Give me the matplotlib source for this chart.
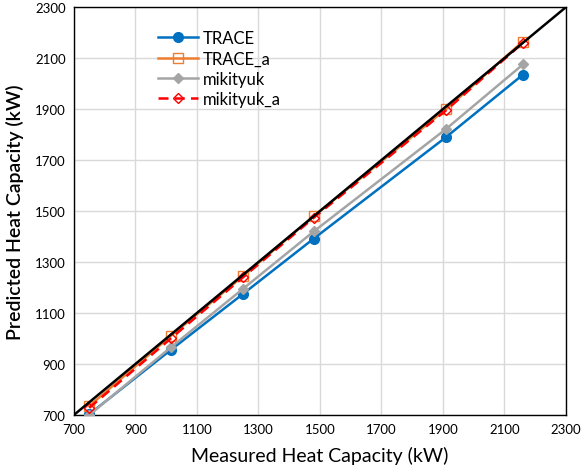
import matplotlib.pyplot as plt
import numpy as np

plt.rcParams['font.family'] = ['Lato', 'DejaVu Sans']

# Measured heat capacity (kW)
measured = [750, 1015, 1250, 1480, 1910, 2160]

# Predicted heat capacity (kW) per model
trace = [703, 955, 1175, 1392, 1790, 2035]
trace_a = [735, 1010, 1245, 1480, 1900, 2165]
mikityuk = [700, 965, 1195, 1420, 1822, 2075]
mikityuk_a = [728, 1000, 1240, 1474, 1895, 2160]

ideal = [700, 2300]
ticks = list(range(700, 2301, 200))

fig = plt.figure(figsize=(5.82, 4.77), dpi=100)
ax = fig.add_axes([0.127, 0.128, 0.8455, 0.855])

ax.plot(measured, trace, color='#0070C0', lw=1.8, marker='o', ms=7,
        label='TRACE', zorder=3)
ax.plot(measured, trace_a, color='#ED7D31', lw=1.8, marker='s', ms=6.5,
        mfc='none', mew=1.0, label='TRACE_a', zorder=3)
ax.plot(measured, mikityuk, color='#A5A5A5', lw=1.8, marker='D', ms=5,
        label='mikityuk', zorder=3)
ax.plot(measured, mikityuk_a, color='#FF0000', lw=1.8, ls=(0, (4, 2.5)),
        marker='D', ms=5, mfc='none', mew=1.0, label='mikityuk_a', zorder=4)
ax.plot(ideal, ideal, color='black', lw=1.8, zorder=5)

ax.set_xlim(700, 2300)
ax.set_ylim(700, 2300)
ax.set_xticks(ticks)
ax.set_yticks(ticks)
ax.tick_params(labelsize=9.5, length=0, pad=6)
ax.grid(True, color='#D9D9D9', lw=1)
ax.set_axisbelow(True)
for s in ax.spines.values():
    s.set_color('black')
    s.set_linewidth(1)

ax.set_xlabel('Measured Heat Capacity (kW)', fontsize=14, labelpad=8)
ax.set_ylabel('Predicted Heat Capacity (kW)', fontsize=14, fontweight='semibold', labelpad=8)

ax.legend(loc='upper left', bbox_to_anchor=(0.14, 0.98), frameon=False,
          fontsize=12, handlelength=2.4, labelspacing=0.25, handletextpad=0.3)

fig.savefig('out.png', dpi=100)
